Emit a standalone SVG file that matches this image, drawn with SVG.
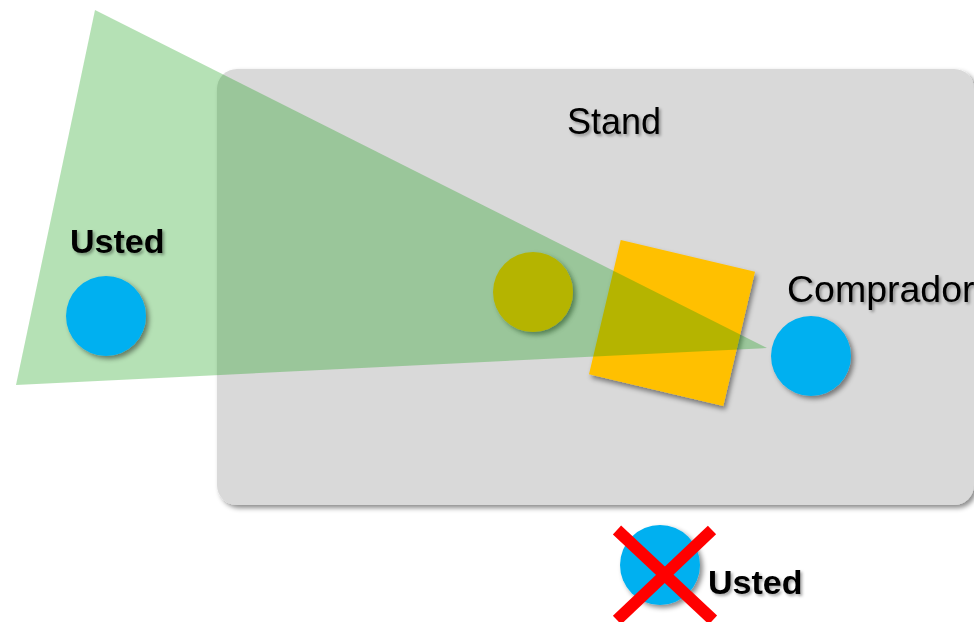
<svg xmlns="http://www.w3.org/2000/svg" width="974" height="622" viewBox="0 0 974 622">
<style>
.lbl{font-family:"Liberation Sans",Arial,sans-serif;font-size:36px;fill:#000}
.bold{font-weight:bold;font-size:34px}
.blue{fill:#00b0f0}
</style>
<defs>
<filter id="sh" x="-30%" y="-30%" width="160%" height="160%">
<feDropShadow dx="3" dy="3" stdDeviation="2.5" flood-color="#000" flood-opacity="0.45"/>
</filter>
<filter id="tsh" x="-10%" y="-20%" width="130%" height="160%">
<feDropShadow dx="2" dy="2" stdDeviation="1.5" flood-color="#000" flood-opacity="0.35"/>
</filter>
</defs>
<rect width="974" height="622" fill="#fff"/>
<g id="stand">
<rect x="217" y="69" width="757" height="436" rx="20" fill="#d9d9d9" filter="url(#sh)"/>
<text class="lbl" x="567" y="134" filter="url(#tsh)">Stand</text>
</g>
<g id="vendedor">
<circle cx="533" cy="292" r="40" fill="#ffc000" filter="url(#sh)"/>
</g>
<g id="mostrador">
<rect x="603" y="254" width="138" height="138" fill="#ffc000" transform="rotate(13.3 672 323)" filter="url(#sh)"/>
</g>
<g id="vision">
<polygon points="95,10 16,385 767,348" fill="rgb(0,150,0)" fill-opacity="0.29"/>
</g>
<g id="usted">
<circle class="blue" cx="106" cy="316" r="40" filter="url(#sh)"/>
<text class="lbl bold" x="70" y="253" filter="url(#tsh)">Usted</text>
</g>
<g id="comprador">
<circle class="blue" cx="811" cy="356" r="40" filter="url(#sh)"/>
<text class="lbl" x="787" y="302" font-size="37.5" filter="url(#tsh)" style="font-size:37.5px">Comprador</text>
</g>
<g id="usted-incorrecto">
<circle class="blue" cx="660" cy="565" r="40" filter="url(#sh)"/>
<line x1="617" y1="530" x2="713" y2="620" stroke="#ff0000" stroke-width="12"/>
<line x1="712" y1="530" x2="617" y2="620" stroke="#ff0000" stroke-width="12"/>
<text class="lbl bold" x="708" y="594" filter="url(#tsh)">Usted</text>
</g>
</svg>
